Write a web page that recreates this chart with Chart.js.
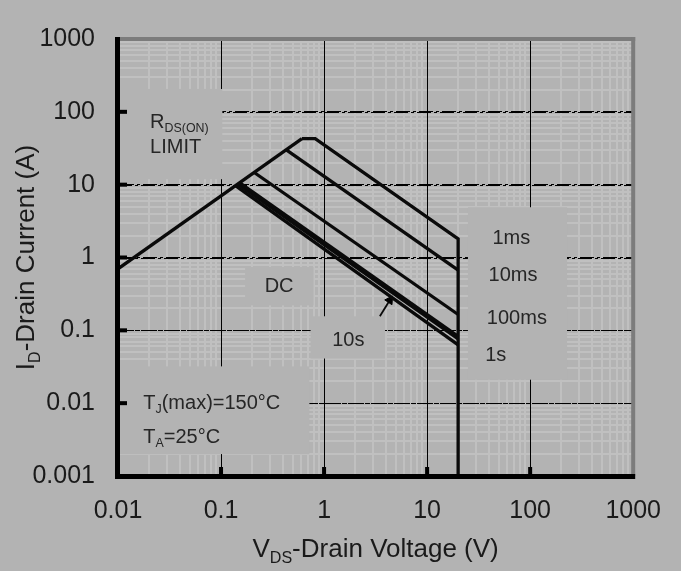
<!DOCTYPE html>
<html><head><meta charset="utf-8">
<script src="https://cdn.jsdelivr.net/npm/chart.js@4.4.0/dist/chart.umd.min.js"></script>
<style>html,body{margin:0;padding:0;background:#b3b3b3;}canvas{display:block;}</style>
</head><body>
<canvas id="c" width="681" height="571"></canvas>
<script>
// ---------- data ----------
const xTickValues = [0.01, 0.1, 1, 10, 100, 1000];
const xTickLabels = ['0.01', '0.1', '1', '10', '100', '1000'];
const yTickValues = [0.001, 0.01, 0.1, 1, 10, 100, 1000];
const yTickLabels = ['0.001', '0.01', '0.1', '1', '10', '100', '1000'];

const rdsLimitV = [0.01, 0.61];
const rdsLimitI = [0.7, 43];
const pulse1msV = [0.61, 0.82, 20, 20];
const pulse1msI = [43, 43, 1.8, 0.001];
const pulse10msV = [0.43, 20];
const pulse10msI = [30, 0.67];
const pulse100msV = [0.21, 20];
const pulse100msI = [14.7, 0.165];
const pulse1sV = [0.152, 20];
const pulse1sI = [10.6, 0.083];
const pulse10sV = [0.146, 20];
const pulse10sI = [10.2, 0.076];
const dcV = [0.138, 20];
const dcI = [9.7, 0.063];
const arrowV = [3.48, 4.34];
const arrowI = [0.156, 0.259];

// ---------- annotation config (anchors in data units) ----------
const notes = [
  {parts: [['R', 0], ['DS(ON)', 1]], v: 0.0205, i: 60},
  {parts: [['LIMIT', 0]], v: 0.0205, i: 27.2},
  {parts: [['DC', 0]], v: 0.265, i: 0.333},
  {parts: [['10s', 0]], v: 1.2, i: 0.06},
  {parts: [['1ms', 0]], v: 43, i: 1.52},
  {parts: [['10ms', 0]], v: 39.5, i: 0.477},
  {parts: [['100ms', 0]], v: 38, i: 0.121},
  {parts: [['1s', 0]], v: 36.6, i: 0.0378},
  {parts: [['T', 0], ['J', 1], ['(max)=150°C', 0]], v: 0.0176, i: 0.00838},
  {parts: [['T', 0], ['A', 1], ['=25°C', 0]], v: 0.0176, i: 0.00285}
];
const labelAreas = [
  {v: [0.01, 0.103], i: [206, 11.9]},
  {v: [0.01, 0.72], i: [0.032, 0.002]},
  {v: [0.171, 0.79], i: [0.74, 0.22]},
  {v: [0.74, 3.9], i: [0.156, 0.041]},
  {v: [24.9, 228], i: [4.9, 0.021]}
];

const BG = '#b3b3b3';
const MINOR = '#c0c0c0';
const INK = '#0a0a0a';
const TEXT = '#262626';
const FAMILY = "'Liberation Sans', Arial, sans-serif";
const fontStr = s => s.toFixed(1) + 'px ' + FAMILY;
const MAJOR_DASH = [14, 3, 3, 3];

const zip = (xs, ys) => xs.map((x, k) => ({x, y: ys[k]}));

function buildLogTicks(min, max) {
  const out = [];
  const e0 = Math.round(Math.log10(min)), e1 = Math.round(Math.log10(max));
  for (let e = e0; e <= e1; e++) {
    for (let k = 1; k <= 9; k++) {
      const v = Number((k * Math.pow(10, e)).toPrecision(12));
      if (v > max * 1.000001) break;
      out.push({value: v, major: k === 1});
    }
  }
  return out;
}
function labelFor(v, vals, labs) {
  const j = vals.findIndex(t => Math.abs(t - v) / t < 1e-9);
  return j >= 0 ? labs[j] : '';
}
const isEdge = (s, v) => Math.abs(v - s.min) / v < 1e-9 || Math.abs(v - s.max) / v < 1e-9;
const gridColor = c => {
  const t = c.tick;
  if (!t) return MINOR;
  if (isEdge(c.scale, t.value)) return 'rgba(0,0,0,0)';
  return t.major ? '#000' : MINOR;
};
const gridWidth = c => (c.tick && c.tick.major) ? 1 : 2;

const lineStyle = {borderColor: INK, borderWidth: 3.3, pointRadius: 0, showLine: true, fill: false, tension: 0, borderJoinStyle: 'miter'};

function drawParts(ctx, parts, x, y, size, center) {
  const SUB = 0.62;
  const widths = parts.map(([t, sub]) => { ctx.font = fontStr(sub ? size * SUB : size); return ctx.measureText(t).width; });
  const total = widths.reduce((a, b) => a + b, 0);
  let cx = center ? x - total / 2 : x;
  parts.forEach(([t, sub], k) => {
    ctx.font = fontStr(sub ? size * SUB : size);
    ctx.fillText(t, cx, sub ? y + size * 0.22 : y);
    cx += widths[k];
  });
}

const decor = {
  id: 'decor',
  beforeDraw(chart) {
    const ctx = chart.ctx;
    ctx.save();
    ctx.fillStyle = BG;
    ctx.fillRect(0, 0, chart.width, chart.height);
    ctx.restore();
  },
  beforeDatasetsDraw(chart) {
    const {ctx, chartArea: a, scales: {x, y}} = chart;
    ctx.save();
    // keep the major grid lines above the light minor ones
    ctx.strokeStyle = '#000';
    ctx.lineWidth = 1;
    for (const v of xTickValues) {
      if (isEdge(x, v)) continue;
      const px = Math.round(x.getPixelForValue(v)) + 0.5;
      ctx.beginPath(); ctx.moveTo(px, a.top); ctx.lineTo(px, a.bottom); ctx.stroke();
    }
    ctx.setLineDash(MAJOR_DASH);
    for (const v of yTickValues) {
      if (isEdge(y, v)) continue;
      const py = Math.round(y.getPixelForValue(v)) + 0.5;
      ctx.beginPath(); ctx.moveTo(a.left, py); ctx.lineTo(a.right, py); ctx.stroke();
    }
    ctx.setLineDash([]);
    // plain label backgrounds that hide the grid
    ctx.fillStyle = BG;
    for (const b of labelAreas) {
      const x1 = x.getPixelForValue(b.v[0]), x2 = x.getPixelForValue(b.v[1]);
      const y1 = y.getPixelForValue(b.i[0]), y2 = y.getPixelForValue(b.i[1]);
      ctx.fillRect(Math.min(x1, x2), Math.min(y1, y2), Math.abs(x2 - x1), Math.abs(y2 - y1));
    }
    ctx.restore();
  },
  afterDatasetsDraw(chart) {
    const {ctx, scales: {x, y}} = chart;
    ctx.save();
    ctx.fillStyle = TEXT;
    ctx.textBaseline = 'alphabetic';
    ctx.textAlign = 'left';
    for (const n of notes) {
      drawParts(ctx, n.parts, x.getPixelForValue(n.v), y.getPixelForValue(n.i), 20, false);
    }
    ctx.restore();
  },
  afterDraw(chart) {
    const {ctx, chartArea: a, scales: {x, y}} = chart;
    ctx.save();
    // top & right frame (grey)
    ctx.fillStyle = '#7c7c7c';
    ctx.fillRect(a.left, a.top - 2, a.right - a.left + 2, 4);
    ctx.fillRect(a.right - 2, a.top - 2, 4, a.bottom - a.top + 2);
    // left & bottom frame (black)
    ctx.fillStyle = '#000';
    ctx.fillRect(a.left - 3, a.top - 2, 5, a.bottom - a.top + 5);
    ctx.fillRect(a.left - 3, a.bottom - 2, a.right - a.left + 5, 5);
    // inward major tick stubs
    for (const v of xTickValues) {
      if (isEdge(x, v)) continue;
      const px = x.getPixelForValue(v);
      ctx.fillRect(px - 2, a.bottom - 9, 4, 9);
    }
    for (const v of yTickValues) {
      if (isEdge(y, v)) continue;
      const py = y.getPixelForValue(v);
      ctx.fillRect(a.left, py - 2, 9, 4);
    }
    // axis titles
    ctx.fillStyle = '#1a1a1a';
    ctx.textBaseline = 'alphabetic';
    ctx.textAlign = 'left';
    drawParts(ctx, [['V', 0], ['DS', 1], ['-Drain Voltage (V)', 0]], (a.left + a.right) / 2, 557, 26, true);
    ctx.translate(34, (a.top + a.bottom) / 2);
    ctx.rotate(-Math.PI / 2);
    drawParts(ctx, [['I', 0], ['D', 1], ['-Drain Current (A)', 0]], 0, 0, 26, true);
    ctx.restore();
  }
};

Chart.defaults.font.family = FAMILY;

new Chart(document.getElementById('c'), {
  type: 'scatter',
  data: {
    datasets: [
      {label: 'RDS(ON) limit', data: zip(rdsLimitV, rdsLimitI), ...lineStyle},
      {label: '1ms', data: zip(pulse1msV, pulse1msI), ...lineStyle},
      {label: '10ms', data: zip(pulse10msV, pulse10msI), ...lineStyle},
      {label: '100ms', data: zip(pulse100msV, pulse100msI), ...lineStyle},
      {label: '1s', data: zip(pulse1sV, pulse1sI), ...lineStyle},
      {label: '10s', data: zip(pulse10sV, pulse10sI), ...lineStyle},
      {label: 'DC', data: zip(dcV, dcI), ...lineStyle},
      {label: 'arrow', data: zip(arrowV, arrowI), ...lineStyle, borderWidth: 1.8,
        pointRadius: [0, 5], pointStyle: 'triangle', pointRotation: 34,
        pointBackgroundColor: '#000', pointBorderColor: '#000', pointBorderWidth: 1}
    ]
  },
  options: {
    responsive: false,
    animation: false,
    devicePixelRatio: 1,
    layout: {padding: {left: 0, right: 42, top: 39, bottom: 0}},
    plugins: {legend: {display: false}, tooltip: {enabled: false}},
    scales: {
      x: {
        type: 'logarithmic', min: 0.01, max: 1000, position: 'bottom',
        afterBuildTicks: s => { s.ticks = buildLogTicks(s.min, s.max); },
        afterFit: s => { s.height = 95; },
        ticks: {autoSkip: false, maxRotation: 0, padding: 20, color: '#1a1a1a', font: {size: 25},
          callback: v => labelFor(v, xTickValues, xTickLabels)},
        grid: {drawTicks: false, color: gridColor, lineWidth: gridWidth},
        border: {display: true, color: '#000', width: 4}
      },
      y: {
        type: 'logarithmic', min: 0.001, max: 1000, position: 'left',
        afterBuildTicks: s => { s.ticks = buildLogTicks(s.min, s.max); },
        afterFit: s => { s.width = 118; },
        ticks: {autoSkip: false, padding: 23, color: '#1a1a1a', font: {size: 25},
          callback: v => labelFor(v, yTickValues, yTickLabels)},
        grid: {drawTicks: false, color: gridColor, lineWidth: gridWidth},
        border: {display: true, color: '#000', width: 4,
          dash: c => (c.tick && c.tick.major && !isEdge(c.scale, c.tick.value)) ? MAJOR_DASH : []}
      }
    }
  },
  plugins: [decor]
});
</script>
</body></html>
